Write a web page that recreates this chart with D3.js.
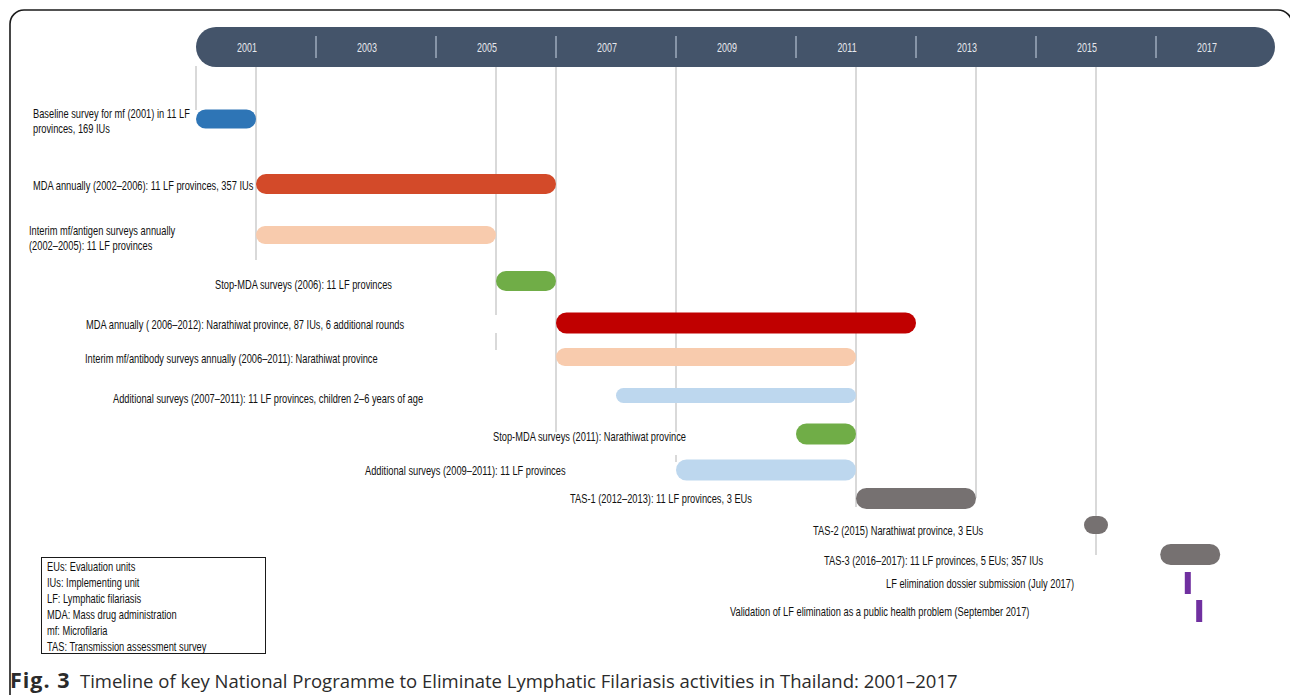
<!DOCTYPE html>
<html>
<head>
<meta charset="utf-8">
<script src="https://cdn.jsdelivr.net/npm/d3@7"></script>
<style>
  html, body { margin: 0; padding: 0; background: #fff; }
  svg { display: block; }
</style>
</head>
<body>
<svg id="chart" width="1290" height="695"></svg>
<script>
// activity labels (multi-line labels as arrays)
const activities = [
    ["Baseline survey for mf (2001) in 11 LF", "provinces, 169 IUs"],
    ["MDA annually (2002\u20132006): 11 LF provinces, 357 IUs"],
    ["Interim mf/antigen surveys annually", "(2002\u20132005): 11 LF provinces"],
    ["Stop-MDA surveys (2006): 11 LF provinces"],
    ["MDA annually ( 2006\u20132012): Narathiwat province, 87 IUs, 6 additional rounds"],
    ["Interim mf/antibody surveys annually (2006\u20132011): Narathiwat province"],
    ["Additional surveys (2007\u20132011): 11 LF provinces, children 2\u20136 years of age"],
    ["Stop-MDA surveys (2011): Narathiwat province"],
    ["Additional surveys (2009\u20132011): 11 LF provinces"],
    ["TAS-1 (2012\u20132013): 11 LF provinces, 3 EUs"],
    ["TAS-2 (2015) Narathiwat province, 3 EUs"],
    ["TAS-3 (2016\u20132017): 11 LF provinces, 5 EUs; 357 IUs"],
    ["LF elimination dossier submission (July 2017)"],
    ["Validation of LF elimination as a public health problem (September 2017)"]
];

// bar extents on the time axis, as drawn in the figure
const startYears = [2001, 2002, 2002, 2006, 2007, 2007, 2008, 2011, 2009, 2012, 2015.8, 2017.07, 2017.48, 2017.67];
const endYears   = [2002, 2007, 2006, 2007, 2013, 2012, 2012, 2012, 2012, 2014, 2016.2, 2018.07, 2017.58, 2017.77];
const barColors  = ["#2e75b6", "#d34a29", "#f8cbad", "#70ad47", "#c00000", "#f8cbad", "#bdd7ee",
                    "#70ad47", "#bdd7ee", "#767171", "#767171", "#767171", "#7030a0", "#7030a0"];

// header years
const headerYears = [2001, 2003, 2005, 2007, 2009, 2011, 2013, 2015, 2017];
const gridYears = [2001, 2002, 2006, 2007, 2009, 2012, 2014, 2016];

const legendLines = [
    "EUs: Evaluation units",
    "IUs: Implementing unit",
    "LF: Lymphatic filariasis",
    "MDA: Mass drug administration",
    "mf: Microfilaria",
    "TAS: Transmission assessment survey"
];

// ---- layout (pixels) ----
const rowY     = [119, 184, 235, 281, 323, 357, 395.5, 434, 470, 498.5, 525, 554.5, 583, 611];
const rowH     = [19, 20, 18, 20, 21, 18, 15, 21, 21, 21, 18, 21, 22, 22];
const labelX   = [33, 33, 29, 215, 86, 85, 113, 493, 365, 570, 813, 824, 886, 730];
const labelY   = [113, 185, 230, 284, 324, 358, 398, 436, 470, 498, 530, 560, 583, 611];
const gridSpans = [[[66, 110]], [[66, 260]], [[66, 315], [333, 350]], [[66, 432]],
                   [[66, 432], [455, 462]], [[66, 507]], [[66, 498]], [[66, 555]]];

const svg = d3.select("#chart");
const x = d3.scaleLinear().domain([2001, 2018]).range([196, 1216]);
const y = d3.scaleOrdinal().domain(d3.range(activities.length)).range(rowY);

const labelFont = "'Liberation Sans', Arial, sans-serif";
const squeeze = 0.715;

function squeezedText(g, tx, ty, str, size, fill) {
    return g.append("text")
        .attr("transform", `translate(${tx},${ty}) scale(${squeeze},1)`)
        .attr("dy", "0.36em")
        .style("font-family", labelFont)
        .style("font-size", size + "px")
        .attr("fill", fill)
        .text(str);
}

// Outer frame
svg.append("rect")
    .attr("x", 10).attr("y", 10)
    .attr("width", 1282).attr("height", 720)
    .attr("rx", 14)
    .attr("fill", "none")
    .attr("stroke", "#1a1a1a")
    .attr("stroke-width", 1.6);

// Vertical grid lines
const grid = svg.append("g");
gridYears.forEach((yr, i) => {
    gridSpans[i].forEach(s => {
        grid.append("line")
            .attr("x1", x(yr)).attr("x2", x(yr))
            .attr("y1", s[0]).attr("y2", s[1])
            .attr("stroke", "#d9d9d9")
            .attr("stroke-width", 2);
    });
});

// Header band
const header = svg.append("g");
header.append("rect")
    .attr("x", x(2001))
    .attr("y", 27)
    .attr("width", x(2019) - x(2001) - 1)
    .attr("height", 40)
    .attr("rx", 20)
    .attr("fill", "#44546a");

header.selectAll(".divider")
    .data(headerYears.slice(1))
    .join("line")
    .attr("class", "divider")
    .attr("x1", d => x(d)).attr("x2", d => x(d))
    .attr("y1", 36).attr("y2", 58)
    .attr("stroke", "#8795a8")
    .attr("stroke-width", 2);

headerYears.forEach(yr => {
    squeezedText(header, x(yr) + 51, 47, String(yr), 12.5, "#e7e9ee")
        .attr("text-anchor", "middle");
});

// Bars
const bars = svg.append("g");
bars.selectAll("rect")
    .data(activities.map((d, i) => i))
    .join("rect")
    .attr("x", i => x(startYears[i]))
    .attr("width", i => x(endYears[i]) - x(startYears[i]))
    .attr("y", i => y(i) - rowH[i] / 2)
    .attr("height", i => rowH[i])
    .attr("rx", i => i >= 12 ? 0 : Math.min(rowH[i] / 2, (x(endYears[i]) - x(startYears[i])) / 2))
    .attr("fill", i => barColors[i]);

// Labels
const labels = svg.append("g");
activities.forEach((lines, i) => {
    lines.forEach((line, j) => {
        squeezedText(labels, labelX[i], labelY[i] + j * 15.5, line, 13, "#111");
    });
});

// Abbreviation legend
const legend = svg.append("g");
legend.append("rect")
    .attr("x", 41.5).attr("y", 557.5)
    .attr("width", 224).attr("height", 96)
    .attr("fill", "#fff")
    .attr("stroke", "#1a1a1a")
    .attr("stroke-width", 1);
legendLines.forEach((t, i) => {
    squeezedText(legend, 47, 566 + i * 16, t, 13, "#111");
});

// Caption
const captionFont = "'Open Sans', 'Noto Sans', sans-serif";
svg.append("text")
    .attr("x", 10)
    .attr("y", 688)
    .style("font-family", captionFont)
    .style("font-size", "21.5px")
    .style("font-weight", "bold")
    .style("letter-spacing", "1px")
    .attr("fill", "#2b2b2b")
    .text("Fig. 3");
svg.append("text")
    .attr("x", 80)
    .attr("y", 688)
    .style("font-family", captionFont)
    .style("font-size", "18.5px")
    .attr("fill", "#2b2b2b")
    .text("Timeline of key National Programme to Eliminate Lymphatic Filariasis activities in Thailand: 2001\u20132017");
</script>
</body>
</html>
